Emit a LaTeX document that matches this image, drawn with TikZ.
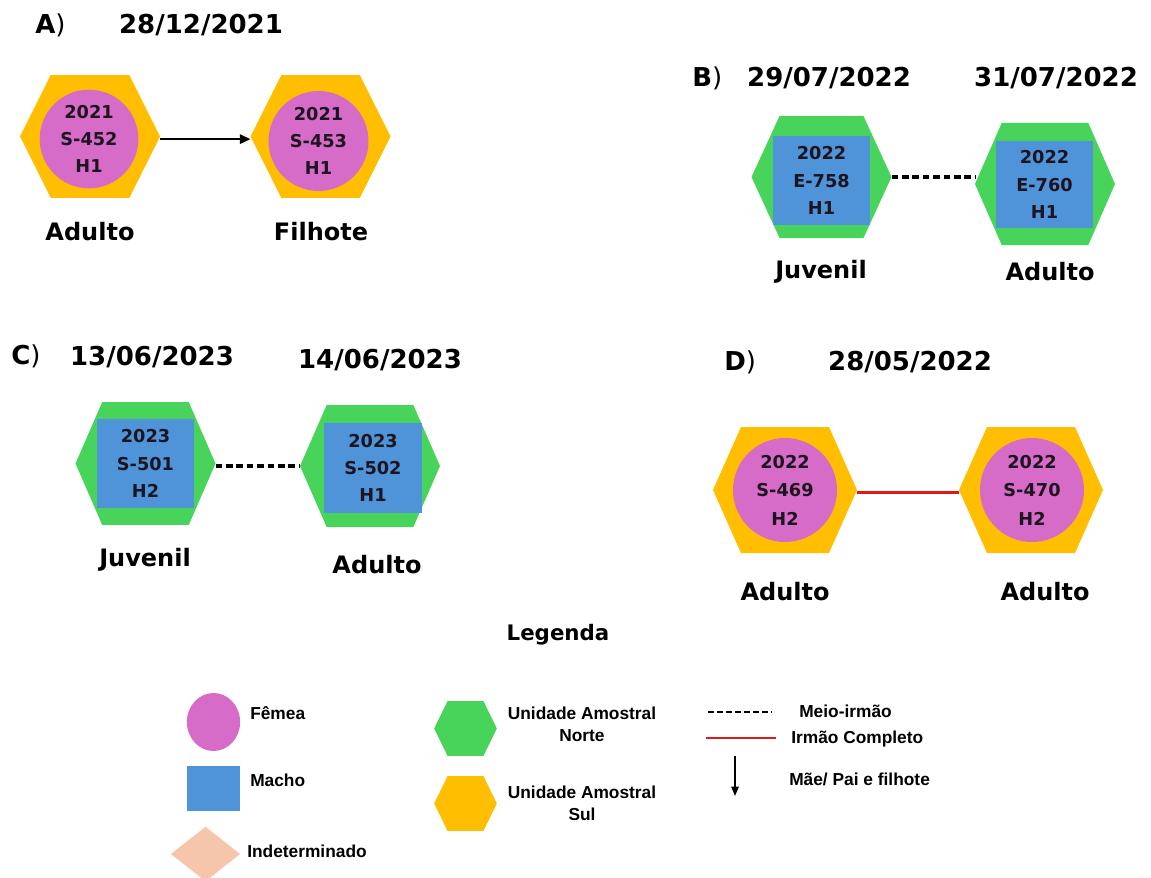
\documentclass[tikz,border=0pt]{standalone}
\usepackage{fontspec}
\setmainfont{DejaVu Sans}
\newfontfamily\legfont{Liberation Sans}
\usetikzlibrary{shapes.geometric, calc, arrows.meta}
\definecolor{rosa}{RGB}{214,108,200}
\definecolor{azul}{RGB}{79,148,216}
\definecolor{verde}{RGB}{72,212,90}
\definecolor{ouro}{RGB}{255,190,0}
\definecolor{pele}{RGB}{245,198,172}
\definecolor{tinta}{RGB}{28,20,32}

\tikzset{
    hexa/.style 2 args={minimum width=105pt, minimum height=92pt, inner sep=0pt, outer sep=0pt,
        path picture={\fill[#1] (path picture bounding box.west)
            -- ([xshift=#2]path picture bounding box.north west)
            -- ([xshift=-#2]path picture bounding box.north east)
            -- (path picture bounding box.east)
            -- ([xshift=-#2]path picture bounding box.south east)
            -- ([xshift=#2]path picture bounding box.south west) -- cycle;}},
    femea/.style={circle, fill=rosa, minimum size=75pt, inner sep=0pt, align=center, text=tinta,
        font=\fontsize{13.3}{20.5}\selectfont\bfseries},
    macho/.style={rectangle, fill=azul, minimum width=73pt, minimum height=67pt, inner sep=0pt,
        align=center, text=tinta, font=\fontsize{13.3}{20.5}\selectfont\bfseries},
    data/.style={font=\fontsize{19.5}{24}\selectfont\bfseries},
    letra/.style={anchor=west, inner sep=0pt, font=\fontsize{19.5}{24}\selectfont},
    rotulo/.style={font=\fontsize{18}{22}\selectfont\bfseries},
    leg/.style={align=center, inner sep=0pt, font=\legfont\fontsize{13}{16.5}\selectfont\bfseries},
    meio/.style={line width=2.4pt, dash pattern=on 5pt off 2.8pt},
    completo/.style={line width=2pt, color={rgb,255:red,225;green,25;blue,25}},
    filho/.style={line width=1.6pt, -{Triangle[length=8pt,width=7pt]}}
}

\begin{document}
\begin{tikzpicture}[x=0.75pt, y=-0.75pt]
    \useasboundingbox (0,0) rectangle (1151,877);

    % A
    \node[letra] at (35,25) {\bfseries A\mdseries )};
    \node[data] at (201,25) {28/12/2021};
    \node[hexa={ouro}{23pt}] (a1) at (90,136.5) {};
    \node[hexa={ouro}{23pt}] (a2) at (320.5,136.5) {};
    \node[femea, minimum size=74pt] (a1c) at (89,139) {2021\\S-452\\H1};
    \node[femea, minimum size=75pt] (a2c) at (318.5,141) {2021\\S-453\\H1};
    \draw[filho] ([yshift=-2pt]a1.east) -- ([yshift=-2pt]a2.west);
    \node[rotulo] at (90,232) {Adulto};
    \node[rotulo] at (321,232) {Filhote};

    % B
    \node[letra] at (692,78) {\bfseries B\mdseries )};
    \node[data] at (829,78) {29/07/2022};
    \node[data] at (1056,78) {31/07/2022};
    \node[hexa={verde}{21pt}, minimum height=91.5pt] (b1) at (821.5,177) {};
    \node[hexa={verde}{20pt}, minimum height=91.5pt] (b2) at (1045,184) {};
    \node[macho] (b1q) at (821.5,180.5) {2022\\E-758\\H1};
    \node[macho, minimum height=65pt] (b2q) at (1044.5,184.5) {2022\\E-760\\H1};
    \draw[meio] (b1.east) -- (b1.east -| b2.west);
    \node[rotulo] at (821,272) {Juvenil};
    \node[rotulo] at (1050,272) {Adulto};

    % C
    \node[letra] at (11,356) {\bfseries C\mdseries )};
    \node[data] at (152,357) {13/06/2023};
    \node[data] at (380,360) {14/06/2023};
    \node[hexa={verde}{20pt}] (c1) at (145.5,463.5) {};
    \node[hexa={verde}{20pt}, minimum height=91.5pt] (c2) at (370,466) {};
    \node[macho] (c1q) at (145.5,463.5) {2023\\S-501\\H2};
    \node[macho, minimum width=74pt] (c2q) at (373,468) {2023\\S-502\\H1};
    \draw[meio] (c2.west -| c1.east) -- (c2.west);
    \node[rotulo] at (145,560) {Juvenil};
    \node[rotulo] at (377,565) {Adulto};

    % D
    \node[letra] at (724,362) {\bfseries D\mdseries )};
    \node[data] at (910,362) {28/05/2022};
    \node[hexa={ouro}{21pt}, minimum width=108pt, minimum height=94.5pt] (d1) at (785,490) {};
    \node[hexa={ouro}{21pt}, minimum width=108pt, minimum height=94.5pt] (d2) at (1031,490) {};
    \node[femea, minimum size=78pt, font=\fontsize{13.3}{21.4}\selectfont\bfseries] (d1c) at (785,490) {2022\\S-469\\H2};
    \node[femea, minimum size=78pt, font=\fontsize{13.3}{21.4}\selectfont\bfseries] (d2c) at (1032,490) {2022\\S-470\\H2};
    \draw[completo] ([yshift=-2pt]d1.east) -- ([yshift=-2pt]d2.west);
    \node[rotulo] at (785,592) {Adulto};
    \node[rotulo] at (1045,592) {Adulto};

    % legenda
    \node[font=\fontsize{16}{20}\selectfont\bfseries] at (558,635) {Legenda};
    \node[ellipse, fill=rosa, minimum width=40pt, minimum height=43.5pt, inner sep=0pt] (lfem) at (213.5,722) {};
    \node[leg, anchor=west] at (250,713) {Fêmea};
    \node[fill=azul, minimum width=40pt, minimum height=34pt, inner sep=0pt] (lmac) at (213.5,788.5) {};
    \node[leg, anchor=west] at (250,780) {Macho};
    \node[diamond, fill=pele, minimum width=52pt, minimum height=41pt, inner sep=0pt] (lind) at (205.5,854) {};
    \node[leg, anchor=west] at (247,851) {Indeterminado};
    \node[hexa={verde}{10pt}, minimum width=47pt, minimum height=41pt] (lnor) at (465.5,728.5) {};
    \node[leg] at (582,724) {Unidade Amostral\\Norte};
    \node[hexa={ouro}{10pt}, minimum width=47pt, minimum height=41pt] (lsul) at (465.5,803.5) {};
    \node[leg] at (582,803.5) {Unidade Amostral\\Sul};
    \coordinate (m1) at (708,712);
    \coordinate (m2) at (772,712);
    \coordinate (i1) at (706,738);
    \coordinate (i2) at (776,738);
    \coordinate (f1) at (735,756);
    \coordinate (f2) at (735,796);
    \draw[meio, line width=2.2pt, dash pattern=on 4.5pt off 2.3pt] (m1) -- (m2);
    \draw[completo] (i1) -- (i2);
    \draw[line width=1.2pt, -{Triangle[length=7pt,width=5.5pt]}] (f1) -- (f2);
    \node[leg, anchor=west] at (799,711) {Meio-irmão};
    \node[leg, anchor=west] at (791,739) {Irmão Completo};
    \node[leg, anchor=west] at (789,779) {Mãe/ Pai e filhote};
\end{tikzpicture}
\end{document}
